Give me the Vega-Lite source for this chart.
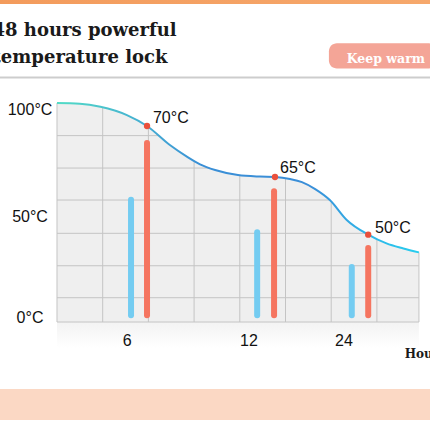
{
  "$schema": "https://vega.github.io/schema/vega-lite/v6.json",
  "width": 430,
  "height": 430,
  "autosize": {"type": "none"},
  "padding": 0,
  "background": "white",
  "config": {"view": {"stroke": null}},
  "datasets": {
    "curve": [
      {"x": 0, "y": 100}, {"x": 0.5, "y": 99.7}, {"x": 0.95, "y": 98.3}, {"x": 1.53, "y": 94.5},
      {"x": 1.97, "y": 89.5}, {"x": 2.47, "y": 80.8}, {"x": 2.85, "y": 75.4}, {"x": 3.13, "y": 72.0},
      {"x": 3.46, "y": 69.4}, {"x": 3.96, "y": 67.1}, {"x": 4.44, "y": 66.4}, {"x": 4.77, "y": 66.2},
      {"x": 5.1, "y": 65.3}, {"x": 5.36, "y": 63.9}, {"x": 5.65, "y": 60.7}, {"x": 5.97, "y": 55.7},
      {"x": 6.34, "y": 46.6}, {"x": 6.81, "y": 39.9}, {"x": 7.21, "y": 35.9}, {"x": 7.58, "y": 33.6},
      {"x": 7.92, "y": 31.8}
    ],
    "vgrid": [
      {"x": 0, "top": 100}, {"x": 1, "top": 98.1}, {"x": 2, "top": 89.0}, {"x": 3, "top": 73.6},
      {"x": 4, "top": 67.0}, {"x": 5, "top": 65.6}, {"x": 6, "top": 55.0}, {"x": 7, "top": 37.9},
      {"x": 7.92, "top": 31.8}
    ],
    "hgrid": [
      {"x": 0, "y": 0.01, "xend": 7.92}, {"x": 0, "y": 11.1, "xend": 7.92}, {"x": 0, "y": 25.7, "xend": 7.92},
      {"x": 0, "y": 40.5, "xend": 6.77}, {"x": 0, "y": 55.7, "xend": 5.97}, {"x": 0, "y": 70.3, "xend": 3.35},
      {"x": 0, "y": 85.1, "xend": 2.22}
    ],
    "bars": [
      {"x": 1.62, "y": 55.8, "kind": "cold"}, {"x": 1.97, "y": 81.7, "kind": "warm"},
      {"x": 4.38, "y": 41.0, "kind": "cold"}, {"x": 4.75, "y": 59.7, "kind": "warm"},
      {"x": 6.45, "y": 25.1, "kind": "cold"}, {"x": 6.81, "y": 33.8, "kind": "warm"}
    ],
    "dots": [
      {"x": 1.97, "y": 89.5, "lx": 2.1, "ly": 90.9, "label": "70°C"},
      {"x": 4.77, "y": 66.2, "lx": 4.88, "ly": 68.0, "label": "65°C"},
      {"x": 6.81, "y": 39.9, "lx": 6.96, "ly": 40.5, "label": "50°C"}
    ],
    "ylabels": [
      {"x": -0.59, "y": 94.5, "label": "100°C"},
      {"x": -0.59, "y": 45.8, "label": "50°C"},
      {"x": -0.59, "y": -0.3, "label": "0°C"}
    ],
    "xlabels": [
      {"x": 1.536, "y": -11.0, "label": "6"},
      {"x": 4.2, "y": -11.0, "label": "12"},
      {"x": 6.28, "y": -11.0, "label": "24"}
    ],
    "titles": [
      {"x": -1.41, "y": 130.6, "label": "48 hours powerful"},
      {"x": -1.41, "y": 118.1, "label": "temperature lock"}
    ]
  },
  "encoding": {
    "x": {"field": "x", "type": "quantitative", "scale": {"domain": [-1.247, 8.162], "nice": false, "zero": false}, "axis": null},
    "y": {"field": "y", "type": "quantitative", "scale": {"domain": [-49.3, 147.03], "nice": false, "zero": false}, "axis": null}
  },
  "layer": [
    {
      "data": {"values": [{"x": -1.247, "x2": 8.162, "y": 147.03, "y2": 145.2}]},
      "mark": {"type": "rect", "color": {"gradient": "linear", "x1": 0, "x2": 1, "y1": 0, "y2": 0, "stops": [{"offset": 0, "color": "#f39b5c"}, {"offset": 1, "color": "#f6a86c"}]}},
      "encoding": {"x2": {"field": "x2"}, "y2": {"field": "y2"}}
    },
    {
      "data": {"values": [{"x": -1.247, "x2": 8.162, "y": 111.7}]},
      "mark": {"type": "rule", "color": "#cdcdcd", "strokeWidth": 2},
      "encoding": {"x2": {"field": "x2"}}
    },
    {
      "data": {"values": [{"x": 5.95, "x2": 8.3, "y": 127.3, "y2": 115.8}]},
      "mark": {"type": "rect", "color": "#f4a597", "cornerRadius": 8},
      "encoding": {"x2": {"field": "x2"}, "y2": {"field": "y2"}}
    },
    {
      "data": {"values": [{"x": 6.34, "y": 118.1, "label": "Keep warm"}]},
      "mark": {"type": "text", "align": "left", "baseline": "alphabetic", "font": "DejaVu Serif", "fontWeight": "bold", "fontSize": 12.5, "color": "white"},
      "encoding": {"text": {"field": "label"}}
    },
    {
      "data": {"name": "titles"},
      "mark": {"type": "text", "align": "left", "baseline": "alphabetic", "font": "DejaVu Serif", "fontWeight": "bold", "fontSize": 18, "color": "#1a1a1a"},
      "encoding": {"text": {"field": "label"}}
    },
    {
      "data": {"values": [{"x": -1.247, "x2": 8.162, "y": -30.6, "y2": -44.7}]},
      "mark": {"type": "rect", "color": "#fbd8c4"},
      "encoding": {"x2": {"field": "x2"}, "y2": {"field": "y2"}}
    },
    {
      "data": {"values": [{"x": 0, "x2": 7.92, "y": -0.01, "y2": -12}]},
      "mark": {"type": "rect", "color": {"gradient": "linear", "x1": 0, "x2": 0, "y1": 0, "y2": 1, "stops": [{"offset": 0, "color": "#f3f3f3"}, {"offset": 1, "color": "#ffffff"}]}},
      "encoding": {"x2": {"field": "x2"}, "y2": {"field": "y2"}}
    },
    {
      "data": {"name": "curve"},
      "mark": {"type": "area", "color": "#efefef", "interpolate": "monotone"},
      "encoding": {"y2": {"datum": 0.01}}
    },
    {
      "data": {"name": "vgrid"},
      "mark": {"type": "rule", "color": "#c4c4c4", "strokeWidth": 1},
      "encoding": {"y": {"field": "top", "type": "quantitative"}, "y2": {"datum": 0.01}}
    },
    {
      "data": {"name": "hgrid"},
      "mark": {"type": "rule", "color": "#c4c4c4", "strokeWidth": 1},
      "encoding": {"x2": {"field": "xend"}}
    },
    {
      "data": {"name": "bars"},
      "mark": {"type": "rule", "strokeWidth": 6, "strokeCap": "round"},
      "encoding": {
        "y2": {"datum": 3.1},
        "color": {"field": "kind", "type": "nominal", "scale": {"domain": ["cold", "warm"], "range": ["#74ccf1", "#f57560"]}, "legend": null}
      }
    },
    {
      "data": {"name": "curve"},
      "mark": {"type": "line", "interpolate": "monotone", "strokeWidth": 2, "color": {"gradient": "linear", "x1": 0, "x2": 1, "y1": 0, "y2": 0, "stops": [{"offset": 0, "color": "#52dcc6"}, {"offset": 0.25, "color": "#44acd2"}, {"offset": 0.4, "color": "#3a8fd6"}, {"offset": 0.7, "color": "#3a8ed8"}, {"offset": 0.85, "color": "#2fb4e8"}, {"offset": 1, "color": "#28cdee"}]}},
      "encoding": {}
    },
    {
      "data": {"name": "dots"},
      "mark": {"type": "circle", "color": "#e9503c", "opacity": 1, "size": 40}
    },
    {
      "data": {"name": "dots"},
      "mark": {"type": "text", "align": "left", "baseline": "alphabetic", "font": "Liberation Sans", "fontSize": 16, "color": "#111111"},
      "encoding": {"x": {"field": "lx", "type": "quantitative"}, "y": {"field": "ly", "type": "quantitative"}, "text": {"field": "label"}}
    },
    {
      "data": {"name": "ylabels"},
      "mark": {"type": "text", "align": "center", "baseline": "alphabetic", "font": "Liberation Sans", "fontSize": 16, "color": "#111111"},
      "encoding": {"text": {"field": "label"}}
    },
    {
      "data": {"name": "xlabels"},
      "mark": {"type": "text", "align": "center", "baseline": "alphabetic", "font": "Liberation Sans", "fontSize": 16, "color": "#111111"},
      "encoding": {"text": {"field": "label"}}
    },
    {
      "data": {"values": [{"x": 7.61, "y": -16.6, "label": "Hours"}]},
      "mark": {"type": "text", "align": "left", "baseline": "alphabetic", "font": "DejaVu Serif", "fontWeight": "bold", "fontSize": 12, "color": "#1a1a1a"},
      "encoding": {"text": {"field": "label"}}
    }
  ]
}
